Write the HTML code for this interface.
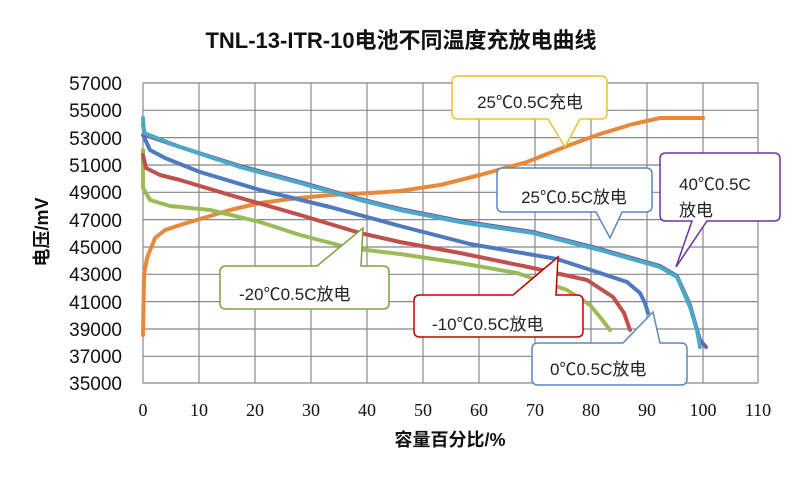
<!DOCTYPE html>
<html><head><meta charset="utf-8"><style>
body{margin:0;background:#fff}
svg text{font-family:"Liberation Sans","Noto Sans CJK SC",sans-serif}
</style></head><body>
<svg width="800" height="485" viewBox="0 0 800 485" xmlns="http://www.w3.org/2000/svg">
<rect width="800" height="485" fill="#fff"/>
<text x="401" y="48" font-size="22" font-weight="bold" text-anchor="middle" fill="#111">TNL-13-ITR-10电池不同温度充放电曲线</text>
<g stroke="#888" stroke-width="1.2" fill="none">
<path d="M143 83H758M143 110.3H758M143 137.6H758M143 165H758M143 192.3H758M143 219.6H758M143 247H758M143 274.3H758M143 301.6H758M143 329H758M143 356.3H758"/>
<path d="M199 83V383M255 83V383M311 83V383M367 83V383M423 83V383M479 83V383M535 83V383M591 83V383M647 83V383M703 83V383M758 83V383"/>
<path d="M143 83V383H758"/>
</g>
<g font-size="19" text-anchor="end" fill="#111">
<text x="122" y="90">57000</text><text x="122" y="117">55000</text><text x="122" y="145">53000</text><text x="122" y="172">51000</text><text x="122" y="199">49000</text><text x="122" y="227">47000</text><text x="122" y="254">45000</text><text x="122" y="281">43000</text><text x="122" y="309">41000</text><text x="122" y="336">39000</text><text x="122" y="363">37000</text><text x="122" y="390">35000</text>
</g>
<g font-size="18" text-anchor="middle" fill="#111">
<text x="143" y="416" style="font-family:'Liberation Serif',serif">0</text><text x="199" y="416" style="font-family:'Liberation Serif',serif">10</text><text x="255" y="416" style="font-family:'Liberation Serif',serif">20</text><text x="311" y="416" style="font-family:'Liberation Serif',serif">30</text><text x="367" y="416" style="font-family:'Liberation Serif',serif">40</text><text x="423" y="416" style="font-family:'Liberation Serif',serif">50</text><text x="479" y="416" style="font-family:'Liberation Serif',serif">60</text><text x="535" y="416" style="font-family:'Liberation Serif',serif">70</text><text x="591" y="416" style="font-family:'Liberation Serif',serif">80</text><text x="647" y="416" style="font-family:'Liberation Serif',serif">90</text><text x="703" y="416" style="font-family:'Liberation Serif',serif">100</text><text x="758" y="416" style="font-family:'Liberation Serif',serif">110</text>
</g>
<text x="450" y="446" font-size="18" font-weight="bold" text-anchor="middle" fill="#111">容量百分比/%</text>
<text transform="translate(48,232) rotate(-90)" font-size="18" font-weight="bold" text-anchor="middle" fill="#111">电压/mV</text>
<g fill="none" stroke-width="4" stroke-linejoin="round" stroke-linecap="round">
<path stroke="#e8883a" d="M143 335L144 275L147 258L155 238L165 230L180 225L200 219L230 210L260 203L290 199L330 195L370 193L400 191L440 185L480 175L527 162L567 146L600 134L633 124L660 118L703 118"/>
<path stroke="#9bbb59" d="M143 150L143 188L150 200L170 206L210 210L260 222L300 235L350 248L400 254L460 263L517 273L567 290L590 305L600 317L610 330"/>
<path stroke="#c0504d" d="M143 155L146 168L160 175L180 180L230 195L300 215L360 233L400 242L460 253L533 268L587 280L613 297L624 313L630 330"/>
<path stroke="#4f7ac0" d="M143 135L150 150L165 158L200 172L260 190L330 207L400 226L470 244L557 259L600 273L627 282L640 293L645 303L648 313"/>
<path stroke="#7a5aa0" d="M143 125L145 135L180 147L240 166L300 182L360 199L400 209L460 221L533 232L600 249L660 266L677 276L690 305L700 340L706 347"/>
<path stroke="#4aa8c8" d="M143 118L144 133L180 147L240 167L300 183L360 200L400 210L460 222L533 233L600 250L660 267L677 277L690 307L697 330L700 347"/>
</g>
<g stroke-width="1.5" fill="#fff" font-size="17">
<path stroke="#f0c030" d="M458 76H601Q607 76 607 82V113Q607 119 601 119H580L565 147L548 119H458Q452 119 452 113V82Q452 76 458 76Z"/>
<text x="530" y="108" text-anchor="middle" fill="#222" stroke="none">25℃0.5C充电</text>
<path stroke="#5b86c0" d="M503 168H646Q652 168 652 174V206Q652 212 646 212H622L610 238L596 212H503Q497 212 497 206V174Q497 168 503 168Z"/>
<text x="574" y="203" text-anchor="middle" fill="#222" stroke="none">25℃0.5C放电</text>
<path stroke="#7030a0" d="M666 153H774Q780 153 780 159V215Q780 221 774 221H707L676 267L692 221H666Q660 221 660 215V159Q660 153 666 153Z"/>
<text x="679" y="190" fill="#222" stroke="none">40℃0.5C</text>
<text x="679" y="216" fill="#222" stroke="none">放电</text>
<path stroke="#c00000" d="M420 295H513L558 257L556 295H577Q583 295 583 301V331Q583 337 577 337H420Q414 337 414 331V301Q414 295 420 295Z"/>
<text x="432" y="330" fill="#222" stroke="none">-10℃0.5C放电</text>
<path stroke="#5b86c0" d="M538 343H623L653 312L660 343H681Q687 343 687 349V379Q687 385 681 385H538Q532 385 532 379V349Q532 343 538 343Z"/>
<text x="550" y="375" fill="#222" stroke="none">0℃0.5C放电</text>
<path stroke="#7ea040" d="M226 266H317L363 228L361 266H383Q389 266 389 272V303Q389 309 383 309H226Q220 309 220 303V272Q220 266 226 266Z"/>
<text x="239" y="300" fill="#222" stroke="none">-20℃0.5C放电</text>
</g>
</svg>
</body></html>
